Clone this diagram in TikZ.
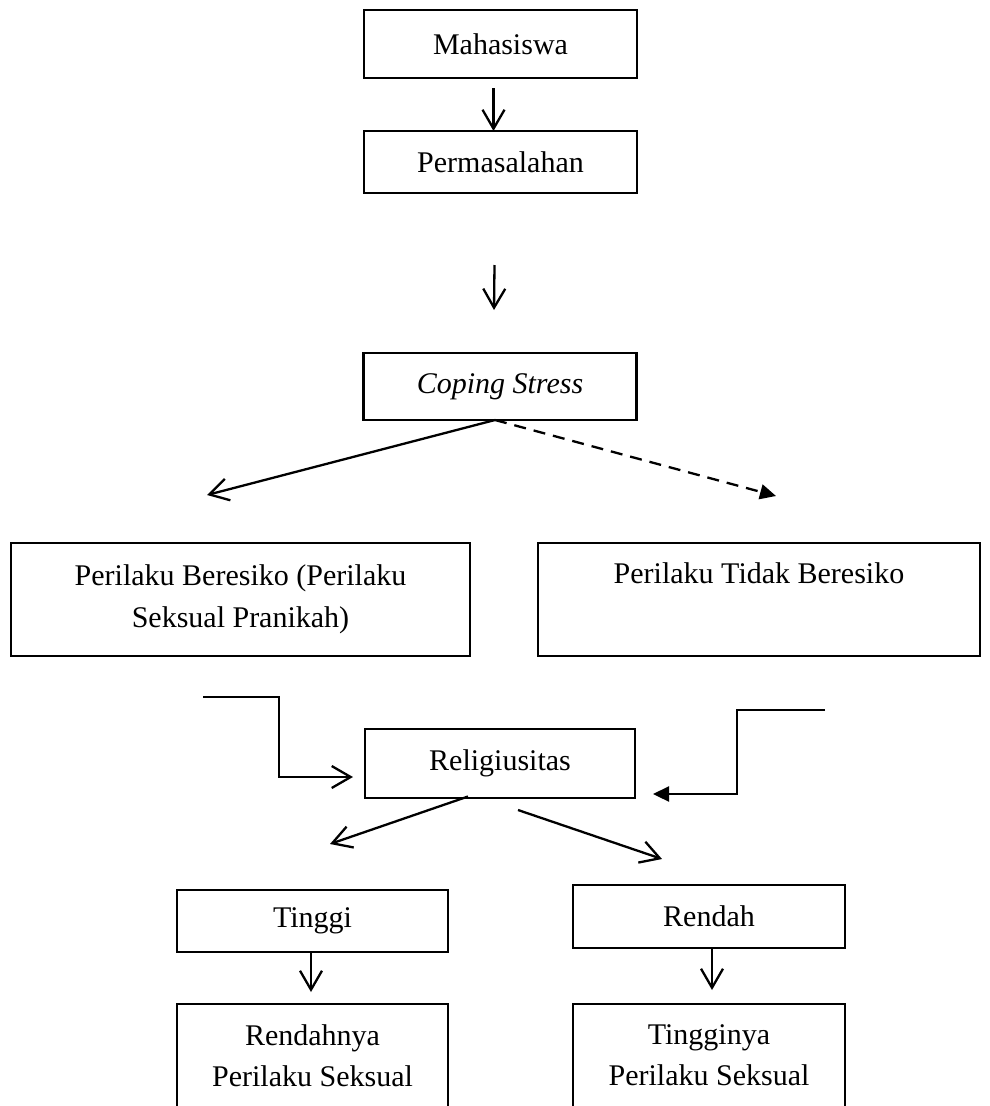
\documentclass[tikz,border=0pt]{standalone}
\usepackage{fontspec}
\setmainfont{Liberation Serif}
\usetikzlibrary{arrows.meta,positioning}

\begin{document}
\begin{tikzpicture}[
x=1pt, y=-1pt,
font=\fontsize{30}{41.5}\selectfont,
box/.style={draw, line width=2.8pt, outer sep=0pt, align=center, minimum width=273pt, minimum height=66pt, inner sep=0pt},
widebox/.style={box, minimum height=113pt},
openbox/.style={draw, line width=2.8pt, outer sep=0pt, align=center, minimum width=271pt, anchor=north, inner xsep=0pt, inner ysep=20.5pt},
arrow/.style={-{Straight Barb[length=19pt, width=22pt]}, line width=2.3pt},
fillarrow/.style={-{Triangle[length=16pt, width=15pt]}, line width=2.3pt}
]
\useasboundingbox (0,0) rectangle (990,1106);
\clip (0,0) rectangle (990,1106);

\node[box, minimum height=68pt] (mhs) at (500.5,44) {Mahasiswa};
\node[box, minimum height=62pt] (prm) at (500.5,162) {Permasalahan};
\node[box, minimum height=67pt] (cop) at (500,386.5) {\itshape Coping Stress};
\node[widebox, minimum width=459pt] (risk) at (240.5,599.5) {Perilaku Beresiko (Perilaku\\Seksual Pranikah)};
\node[widebox, minimum width=442pt] (norisk) at (759,599.5) {Perilaku Tidak Beresiko\\[12pt]\mbox{}};
\node[box, minimum width=270pt, minimum height=69pt] (rel) at (500,763.5) {Religiusitas};
\node[box, minimum width=271pt, minimum height=62pt] (high) at (312.5,921) {Tinggi};
\node[box, minimum width=272pt, minimum height=63pt] (low) at (709,916.5) {Rendah};
\node[openbox] (lowsex) at (312.5,1004) {Rendahnya\\Perilaku Seksual\\\mbox{}};
\node[openbox, minimum width=272pt] (highsex) at (709,1004) {Tingginya\\Perilaku Seksual\\\mbox{}};

% free ends
\coordinate (riskend) at (207,495);
\coordinate (noriskend) at (776,496);
\coordinate (lin) at (203,697);
\coordinate (rin) at (825,710);
\coordinate (tohigh) at (330,844);
\coordinate (tolow) at (662,859);

\draw[arrow] ([xshift=-7pt,yshift=-10pt]mhs.south) -- ([xshift=-7pt]prm.north);
\draw[arrow] ([xshift=-6pt,yshift=-72pt]prm.south) -- ([xshift=-6pt,yshift=43pt]cop.north);
\draw[arrow] ([xshift=-5pt]cop.south) -- (riskend);
\draw[fillarrow, dash pattern=on 12pt off 8pt] ([xshift=-5pt]cop.south) -- (noriskend);

\draw[arrow] (lin) -- ++(76,0) -- ++(0,80) -- ([xshift=-12pt,yshift=-13.5pt]rel.west);
\draw[fillarrow] (rin) -- ++(-88,0) -- ++(0,84) -- ([xshift=18pt,yshift=-30.5pt]rel.east);
\draw[arrow] ([xshift=-32pt,yshift=1.5pt]rel.south) -- (tohigh);
\draw[arrow] ([xshift=18pt,yshift=-12pt]rel.south) -- (tolow);

\draw[arrow] ([xshift=-1.5pt]high.south) -- ([xshift=-1.5pt,yshift=12pt]lowsex.north);
\draw[arrow] ([xshift=3pt]low.south) -- ([xshift=3pt,yshift=14pt]highsex.north);
\end{tikzpicture}
\end{document}
